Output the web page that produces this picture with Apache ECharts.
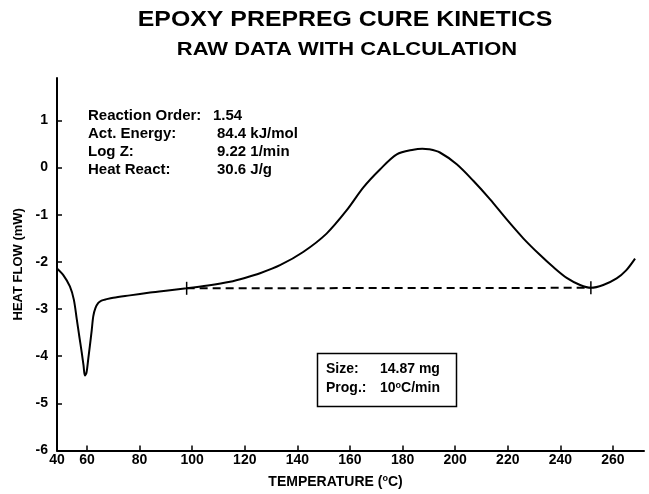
<!DOCTYPE html>
<html>
<head>
<meta charset="utf-8">
<script src="https://cdn.jsdelivr.net/npm/echarts@6/dist/echarts.min.js"></script>
<style>
  html, body { margin: 0; padding: 0; background: #fff; }
  #chart { width: 649px; height: 494px; }
</style>
</head>
<body>
<div id="chart"></div>
<script>
// DSC raw heat flow curve (temperature in C, heat flow in mW)
var temps = [48.6, 51, 53.5, 55, 56.1, 57, 58, 58.7, 59.2, 59.8, 60.5, 61.1, 61.8, 62.4, 63.2, 64.3,
  65.5, 67.5, 70, 76.3, 84, 90, 97.9, 106, 114.4, 120, 125.8, 133.4, 142.2, 151.1, 158.7, 165.1,
  171.4, 177.8, 184.1, 187.5, 190, 194.2, 200.6, 206.9, 213.2, 219.6, 225.9, 232.2, 237.3, 242.4,
  247.5, 251.6, 256.3, 261.4, 265, 268.4]
var heatFlow = [-2.14, -2.28, -2.52, -2.8, -3.21, -3.55, -3.92, -4.2, -4.41, -4.35, -4.05, -3.78,
  -3.45, -3.15, -2.98, -2.87, -2.82, -2.79, -2.76, -2.71, -2.65, -2.61, -2.56, -2.5, -2.42, -2.34,
  -2.24, -2.07, -1.79, -1.40, -0.91, -0.42, -0.04, 0.28, 0.38, 0.40, 0.39, 0.32, 0.07, -0.28, -0.67,
  -1.10, -1.50, -1.85, -2.11, -2.34, -2.49, -2.55, -2.49, -2.35, -2.18, -1.93]

// integration baseline end points
var baseTemps = [97.9, 251.6]
var baseFlow = [-2.56, -2.55]

var xTicks = [60, 80, 100, 120, 140, 160, 180, 200, 220, 240, 260]
var yTicks = [-5, -4, -3, -2, -1, 0, 1]
var xMin = 48.6, xMax = 271.8
var yMin = -6, yMax = 1.9

var FONT = 'Liberation Sans, Arial, sans-serif'

var curve = temps.map(function (t, i) { return [t, heatFlow[i]] })
var baseline = baseTemps.map(function (t, i) { return [t, baseFlow[i]] })

var chart = echarts.init(document.getElementById('chart'))

function txt(x, y, s, size) {
  return { type: 'text', x: x, y: y, style: { text: s, font: 'bold ' + (size || 15) + 'px ' + FONT, fill: '#000' } }
}

chart.setOption({
  animation: false,
  backgroundColor: '#fff',
  grid: { left: 57, right: 5, top: 78, bottom: 35 },
  xAxis: {
    type: 'value',
    min: xMin,
    max: xMax,
    name: 'TEMPERATURE ({s|o}C)',
    nameLocation: 'middle',
    nameGap: 24,
    nameTextStyle: {
      fontFamily: FONT, fontWeight: 'bold', fontSize: 14, color: '#000',
      padding: [0, 30, 0, 0],
      rich: { s: { fontFamily: FONT, fontWeight: 'bold', fontSize: 9, color: '#000', verticalAlign: 'top', padding: [0, 0, 6, 0] } }
    },
    axisLine: { onZero: false, lineStyle: { color: '#000', width: 2 } },
    axisTick: { inside: true, length: 5, lineStyle: { color: '#000', width: 1.5 }, customValues: xTicks },
    axisLabel: {
      customValues: [xMin].concat(xTicks),
      formatter: function (v) { return v < 50 ? '40' : String(v) },
      fontFamily: FONT, fontWeight: 'bold', fontSize: 14, color: '#000', margin: 3
    },
    splitLine: { show: false }
  },
  yAxis: {
    type: 'value',
    min: yMin,
    max: yMax,
    name: 'HEAT FLOW (mW)',
    nameLocation: 'middle',
    nameRotate: 90,
    nameGap: 30,
    nameTextStyle: { fontFamily: FONT, fontWeight: 'bold', fontSize: 13, color: '#000' },
    axisLine: { lineStyle: { color: '#000', width: 2 } },
    axisTick: { inside: true, length: 5, lineStyle: { color: '#000', width: 1.5 }, customValues: yTicks },
    axisLabel: {
      customValues: [yMin].concat(yTicks),
      fontFamily: FONT, fontWeight: 'bold', fontSize: 14, color: '#000', margin: 9
    },
    splitLine: { show: false }
  },
  series: [
    {
      type: 'line',
      data: curve,
      smooth: 0.3,
      showSymbol: false,
      lineStyle: { color: '#000', width: 2 },
      z: 3
    },
    {
      type: 'line',
      data: baseline,
      symbol: 'rect',
      symbolSize: [1.5, 13],
      itemStyle: { color: '#000' },
      lineStyle: { color: '#000', width: 2, type: [8, 5] },
      z: 2
    }
  ],
  graphic: [
    { type: 'text', x: 345, y: 9, scaleX: 1.13, style: { text: 'EPOXY PREPREG CURE KINETICS', font: 'bold 22px ' + FONT, fill: '#000', align: 'center' } },
    { type: 'text', x: 347, y: 41, scaleX: 1.22, style: { text: 'RAW DATA WITH CALCULATION', font: 'bold 18px ' + FONT, fill: '#000', align: 'center' } },

    txt(88, 108, 'Reaction Order:'),
    txt(88, 126, 'Act. Energy:'),
    txt(88, 144, 'Log Z:'),
    txt(88, 162, 'Heat React:'),
    txt(213, 108, '1.54'),
    txt(217, 126, '84.4 kJ/mol'),
    txt(217, 144, '9.22 1/min'),
    txt(217, 162, '30.6 J/g'),

    { type: 'rect', shape: { x: 317.5, y: 353.5, width: 139, height: 53 }, style: { fill: '#fff', stroke: '#000', lineWidth: 1.5 } },
    txt(326, 362, 'Size:', 14),
    txt(380, 362, '14.87 mg', 14),
    txt(326, 381, 'Prog.:', 14),
    {
      type: 'text', x: 380, y: 381,
      style: {
        text: '10{s|o}C/min', font: 'bold 14px ' + FONT, fill: '#000',
        rich: { s: { fontFamily: FONT, fontWeight: 'bold', fontSize: 9, fill: '#000', verticalAlign: 'top', padding: [0, 0, 5, 0] } }
      }
    }
  ]
})
</script>
</body>
</html>
